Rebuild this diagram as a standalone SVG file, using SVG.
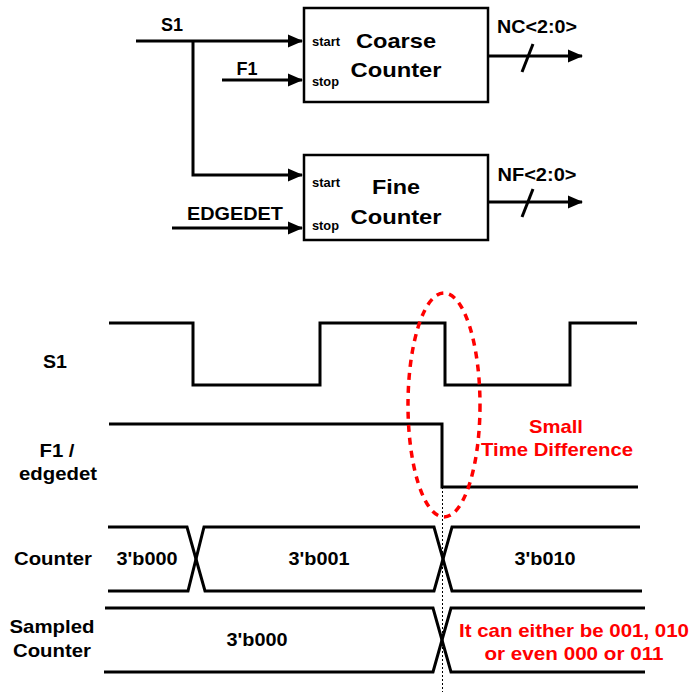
<svg xmlns="http://www.w3.org/2000/svg" width="691" height="692" viewBox="0 0 691 692">
<defs>
<style>
text{font-family:"Liberation Sans",Arial,sans-serif;font-weight:bold;fill:#000}
.big{font-size:21px}
.lbl{font-size:17.5px}
.pin{font-size:12px}
.ts{font-size:18.5px}
.red{fill:#ff0000}
.w{fill:none;stroke:#000;stroke-width:3;stroke-linejoin:miter}
.box{fill:#fff;stroke:#000;stroke-width:2.5}
</style>
<marker id="ah" markerUnits="userSpaceOnUse" markerWidth="17" markerHeight="15" refX="14" refY="7.5" orient="auto">
<path d="M0,1 L15,7.5 L0,14 z" fill="#000"/>
</marker>
</defs>
<rect width="691" height="692" fill="#fff"/>

<g id="coarse-counter">
<rect class="box" x="304" y="8" width="184" height="94"/>
<text class="pin" x="312" y="46" textLength="28" lengthAdjust="spacingAndGlyphs">start</text>
<text class="pin" x="312" y="86" textLength="27" lengthAdjust="spacingAndGlyphs">stop</text>
<text class="big" x="396" y="48" text-anchor="middle" textLength="80" lengthAdjust="spacingAndGlyphs">Coarse</text>
<text class="big" x="396" y="77" text-anchor="middle" textLength="91" lengthAdjust="spacingAndGlyphs">Counter</text>
</g>

<g id="fine-counter">
<rect class="box" x="304" y="155" width="184" height="85"/>
<text class="pin" x="312" y="187" textLength="28" lengthAdjust="spacingAndGlyphs">start</text>
<text class="pin" x="312" y="230" textLength="27" lengthAdjust="spacingAndGlyphs">stop</text>
<text class="big" x="396" y="194" text-anchor="middle" textLength="48" lengthAdjust="spacingAndGlyphs">Fine</text>
<text class="big" x="396" y="224" text-anchor="middle" textLength="91" lengthAdjust="spacingAndGlyphs">Counter</text>
</g>

<g id="connectors">
<path class="w" d="M136,41 H302" marker-end="url(#ah)"/>
<path class="w" d="M193,41 V175 H302" marker-end="url(#ah)"/>
<path class="w" d="M222,80 H302" marker-end="url(#ah)"/>
<path class="w" d="M172,228 H302" marker-end="url(#ah)"/>
<path class="w" d="M488,56 H582" marker-end="url(#ah)"/>
<path class="w" d="M488,202 H582" marker-end="url(#ah)"/>
<path class="w" d="M522,72 L533,44"/>
<path class="w" d="M522,217 L533,189"/>
<text class="lbl" x="172" y="31" text-anchor="middle" textLength="22" lengthAdjust="spacingAndGlyphs">S1</text>
<text class="lbl" x="247" y="75" text-anchor="middle" textLength="21" lengthAdjust="spacingAndGlyphs">F1</text>
<text class="lbl" x="235" y="220" text-anchor="middle" textLength="96" lengthAdjust="spacingAndGlyphs">EDGEDET</text>
<text class="lbl" x="537" y="33" text-anchor="middle" textLength="80" lengthAdjust="spacingAndGlyphs">NC&lt;2:0&gt;</text>
<text class="lbl" x="537" y="181" text-anchor="middle" textLength="79" lengthAdjust="spacingAndGlyphs">NF&lt;2:0&gt;</text>
</g>

<g id="timing">
<text class="ts" x="55" y="368" text-anchor="middle" textLength="24" lengthAdjust="spacingAndGlyphs">S1</text>
<text class="ts" x="57" y="457" text-anchor="middle" textLength="35" lengthAdjust="spacingAndGlyphs">F1 /</text>
<text class="ts" x="58" y="480" text-anchor="middle" textLength="78" lengthAdjust="spacingAndGlyphs">edgedet</text>
<text class="ts" x="53" y="565" text-anchor="middle" textLength="78" lengthAdjust="spacingAndGlyphs">Counter</text>
<text class="ts" x="52" y="633" text-anchor="middle" textLength="85" lengthAdjust="spacingAndGlyphs">Sampled</text>
<text class="ts" x="52" y="657" text-anchor="middle" textLength="78" lengthAdjust="spacingAndGlyphs">Counter</text>

<path class="w" d="M109,323 H193 V385 H320 V323 H445 V385 H570 V323 H637"/>
<path class="w" d="M109,424 H442 V487 H638"/>

<path class="w" d="M108,527 H187 L205,591 H434 L452,527 H640"/>
<path class="w" d="M108,591 H188 L204,527 H434 L452,591 H642"/>

<path class="w" d="M105,608 H433 L451,672 H645"/>
<path class="w" d="M104,672 H433 L451,608 H645"/>

<line x1="442.5" y1="487" x2="442.5" y2="692" stroke="#000" stroke-width="1" stroke-dasharray="2,2"/>

<ellipse cx="444" cy="405" rx="36" ry="112" fill="none" stroke="#ff0000" stroke-width="3.5" stroke-dasharray="7,6"/>

<text class="ts" x="147" y="565" text-anchor="middle" textLength="61" lengthAdjust="spacingAndGlyphs">3'b000</text>
<text class="ts" x="319" y="565" text-anchor="middle" textLength="61" lengthAdjust="spacingAndGlyphs">3'b001</text>
<text class="ts" x="545" y="565" text-anchor="middle" textLength="61" lengthAdjust="spacingAndGlyphs">3'b010</text>
<text class="ts" x="257" y="646" text-anchor="middle" textLength="61" lengthAdjust="spacingAndGlyphs">3'b000</text>
<text class="ts red" x="556" y="433" text-anchor="middle" textLength="54" lengthAdjust="spacingAndGlyphs">Small</text>
<text class="ts red" x="557" y="456" text-anchor="middle" textLength="152" lengthAdjust="spacingAndGlyphs">Time Difference</text>
<text class="ts red" x="574" y="637" text-anchor="middle" textLength="230" lengthAdjust="spacingAndGlyphs">It can either be 001, 010</text>
<text class="ts red" x="574" y="660" text-anchor="middle" textLength="179" lengthAdjust="spacingAndGlyphs">or even 000 or 011</text>
</g>
</svg>
